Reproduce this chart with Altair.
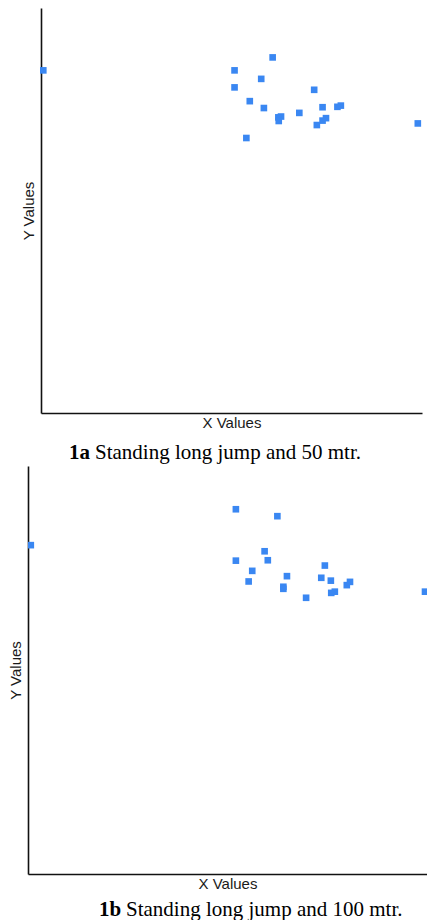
import altair as alt
import pandas as pd

# ---- data (arbitrary 0-100 units, axes carry no labels) ----
x_1a = [0.6, 50.8, 60.8, 57.8, 50.8, 71.7, 54.8, 58.5, 73.9, 77.8,
        78.7, 67.8, 63.0, 62.3, 62.4, 74.8, 73.9, 72.4, 98.9, 53.9]
y_1a = [84.6, 84.6, 87.8, 82.5, 80.4, 79.8, 77.0, 75.3, 75.5, 75.6,
        75.9, 74.1, 73.2, 73.0, 72.1, 72.8, 72.2, 71.1, 71.5, 67.9]

x_1b = [0.7, 52.1, 62.5, 59.3, 52.1, 60.1, 74.4, 56.2, 55.3, 64.9,
        73.5, 75.9, 64.0, 64.0, 79.9, 80.7, 76.0, 76.9, 69.7, 99.5]
y_1b = [80.6, 89.4, 87.7, 79.1, 76.8, 76.9, 75.6, 74.3, 71.7, 73.0,
        72.6, 71.9, 70.4, 69.9, 70.8, 71.6, 68.9, 69.2, 67.7, 69.2]

x_title = "X Values"
y_title = "Y Values"
caption_1a = ["1a", "Standing long jump and 50 mtr."]
caption_1b = ["1b", "Standing long jump and 100 mtr."]

POINT_COLOR = "#3A87F2"


def make_axis(title, pad, offset=0):
    return alt.Axis(
        title=title, labels=False, ticks=False, grid=False, domain=True,
        domainColor="#111111", domainWidth=1.6, offset=offset,
        titleFont="Liberation Sans", titleFontSize=15, titleFontWeight="normal",
        titleColor="#1a1a1a", titlePadding=pad,
    )


def panel(xs, ys, caption, w, h, x_start, bold_x, text_x, cap_y):
    df = pd.DataFrame({"x": xs, "y": ys})
    pts = alt.Chart(df).mark_square(size=44, color=POINT_COLOR, opacity=1, clip=True).encode(
        x=alt.X("x:Q", scale=alt.Scale(domain=[0, 100], nice=False, zero=False,
                                       range=[x_start, w]),
                axis=make_axis(x_title, 2)),
        y=alt.Y("y:Q", scale=alt.Scale(domain=[0, 100], nice=False, zero=False),
                axis=make_axis(y_title, 5, -x_start)),
    )
    bold = alt.Chart(pd.DataFrame({"t": [caption[0]]})).mark_text(
        align="left", baseline="alphabetic", font="Liberation Serif",
        fontSize=21, fontWeight="bold", color="black",
    ).encode(x=alt.value(bold_x), y=alt.value(cap_y), text="t:N")
    rest = alt.Chart(pd.DataFrame({"t": [caption[1]]})).mark_text(
        align="left", baseline="alphabetic", font="Liberation Serif",
        fontSize=21, fontWeight="normal", color="black",
    ).encode(x=alt.value(text_x), y=alt.value(cap_y), text="t:N")
    return alt.layer(pts, bold, rest).properties(width=w, height=h)


# panel 1: group starts at page x=29, plot (axis) starts 13px further right
p1 = panel(x_1a, y_1a, caption_1a, 394, 405, 13, 41, 67, 451)
p2 = panel(x_1b, y_1b, caption_1b, 399, 408, 0, 71, 98, 450)

chart = (
    alt.vconcat(p1, p2, spacing=3)
    .properties(padding=0)
    .configure_view(strokeWidth=0)
)

chart.save("out.html", embed_options={"renderer": "svg", "actions": False})
